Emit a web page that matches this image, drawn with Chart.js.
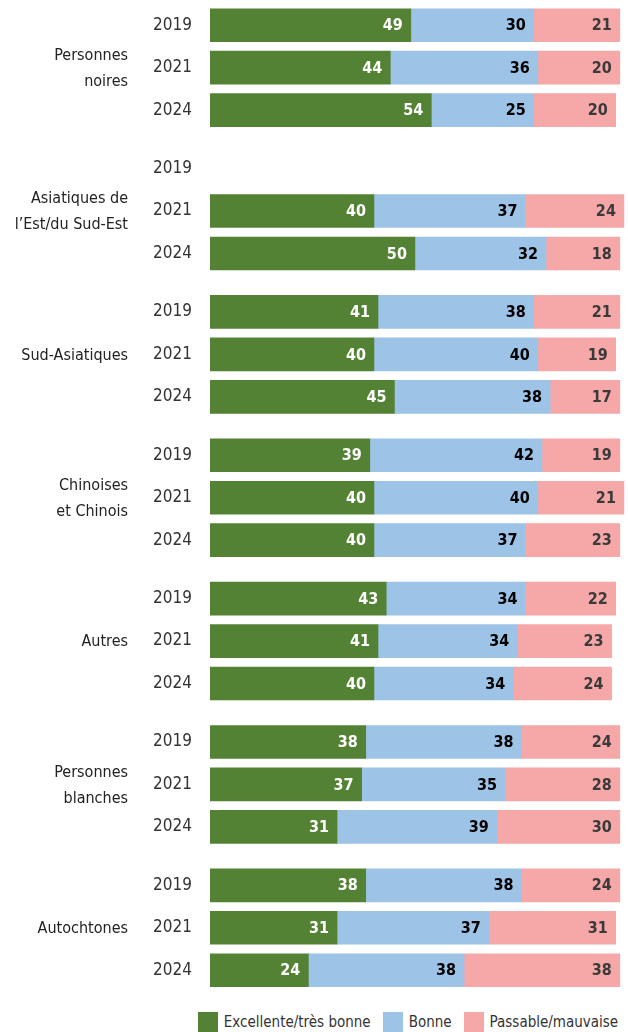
<!DOCTYPE html>
<html lang="fr">
<head>
<meta charset="utf-8">
<script src="https://cdn.jsdelivr.net/npm/chart.js@4.4.1/dist/chart.umd.min.js"></script>
<style>
  html, body { margin: 0; padding: 0; background: #fff; }
  #wrap { width: 628px; height: 1032px; position: relative; overflow: hidden; }
  #box { position: absolute; left: 0; top: 0; width: 628px; height: 994px; }
  #legend {
    position: absolute; left: 190px; width: 436px; top: 1012px;
    display: flex; justify-content: center; gap: 12px;
    font-family: 'DejaVu Sans Condensed', 'Liberation Sans Narrow', sans-serif;
    font-size: 15px; color: #333; line-height: 20px;
  }
  #legend span.item { display: flex; align-items: center; white-space: nowrap; }
  #legend i { display: inline-block; width: 20px; height: 20px; margin-right: 6px; }
</style>
</head>
<body>
<div id="wrap">
  <div id="box"><canvas id="chart"></canvas></div>
  <div id="legend"></div>
</div>
<script>
// Santé perçue par groupe de population (%)
const groups = [
  ['Personnes', 'noires'],
  ['Asiatiques de', 'l’Est/du Sud-Est'],
  ['Sud-Asiatiques'],
  ['Chinoises', 'et Chinois'],
  ['Autres'],
  ['Personnes', 'blanches'],
  ['Autochtones']
];
const years = ['2019', '2021', '2024'];
const seriesNames = ['Excellente/très bonne', 'Bonne', 'Passable/mauvaise'];

const excellente = [49, 44, 54,  null, 40, 50,  41, 40, 45,  39, 40, 40,  43, 41, 40,  38, 37, 31,  38, 31, 24];
const bonne      = [30, 36, 25,  null, 37, 32,  38, 40, 38,  42, 40, 37,  34, 34, 34,  38, 35, 39,  38, 37, 38];
const passable   = [21, 20, 20,  null, 24, 18,  21, 19, 17,  19, 21, 23,  22, 23, 24,  24, 28, 30,  24, 31, 38];

const colors = ['#548235', '#9DC3E6', '#F6A8A8'];
const labelColors = ['#ffffff', '#000000', '#3a3a3a'];
const FONT = "'DejaVu Sans Condensed', 'Liberation Sans Narrow', sans-serif";

// position verticale de chaque ligne (un petit écart en plus entre les groupes)
const groupStep = 3.376;
const rowPos = [];
groups.forEach((g, gi) => years.forEach((y, yi) => rowPos.push(gi * groupStep + yi)));

function toPoints(arr) {
  return arr.map((v, i) => ({ x: v, y: rowPos[i] }));
}

const datasets = [excellente, bonne, passable].map((arr, i) => ({
  label: seriesNames[i],
  data: toPoints(arr),
  backgroundColor: colors[i],
  borderWidth: 0,
  barThickness: 33
}));

// valeurs dans les barres
const valueLabels = {
  id: 'valueLabels',
  afterDatasetsDraw(chart) {
    const ctx = chart.ctx;
    ctx.save();
    ctx.font = 'bold 16px ' + FONT;
    ctx.textAlign = 'right';
    ctx.textBaseline = 'middle';
    chart.data.datasets.forEach((ds, di) => {
      const meta = chart.getDatasetMeta(di);
      meta.data.forEach((bar, i) => {
        const v = ds.data[i].x;
        if (v == null) return;
        ctx.fillStyle = labelColors[di];
        ctx.fillText(String(v), bar.x - 8, bar.y + 1);
      });
    });
    ctx.restore();
  }
};

// noms des groupes à gauche
const groupLabels = {
  id: 'groupLabels',
  afterDraw(chart) {
    const ctx = chart.ctx;
    const yScale = chart.scales.y;
    ctx.save();
    ctx.font = '16px ' + FONT;
    ctx.fillStyle = '#222';
    ctx.textAlign = 'right';
    ctx.textBaseline = 'middle';
    const lh = 26;
    groups.forEach((lines, gi) => {
      const cy = yScale.getPixelForValue(gi * groupStep + 1);
      const top = cy - (lines.length - 1) * lh / 2;
      lines.forEach((t, li) => ctx.fillText(t, 128, top + li * lh + 1));
    });
    ctx.restore();
  }
};

new Chart(document.getElementById('chart').getContext('2d'), {
  type: 'bar',
  data: { datasets },
  options: {
    indexAxis: 'y',
    responsive: true,
    maintainAspectRatio: false,
    animation: false,
    layout: { padding: { top: 4, right: 0, bottom: 0, left: 0 } },
    plugins: {
      tooltip: { enabled: false },
      legend: { display: false }
    },
    scales: {
      x: {
        stacked: true,
        min: 0,
        max: 102,
        display: false
      },
      y: {
        type: 'linear',
        stacked: true,
        reverse: true,
        offset: false,
        min: -0.5,
        max: rowPos[rowPos.length - 1] + 0.5,
        grid: { display: false, drawTicks: true, tickLength: 18 },
        border: { display: false },
        afterFit(scale) { scale.width = 210; },
        afterBuildTicks(scale) {
          scale.ticks = rowPos.map(v => ({ value: v }));
        },
        ticks: {
          autoSkip: false,
          padding: 0,
          color: '#333',
          font: { family: FONT, size: 17, lineHeight: 0.3 },
          callback: (v, i) => years[i % 3]
        }
      }
    }
  },
  plugins: [valueLabels, groupLabels]
});

// légende
const legend = document.getElementById('legend');
seriesNames.forEach((name, i) => {
  const item = document.createElement('span');
  item.className = 'item';
  item.innerHTML = '<i style="background:' + colors[i] + '"></i>' + name;
  legend.appendChild(item);
});
</script>
</body>
</html>
